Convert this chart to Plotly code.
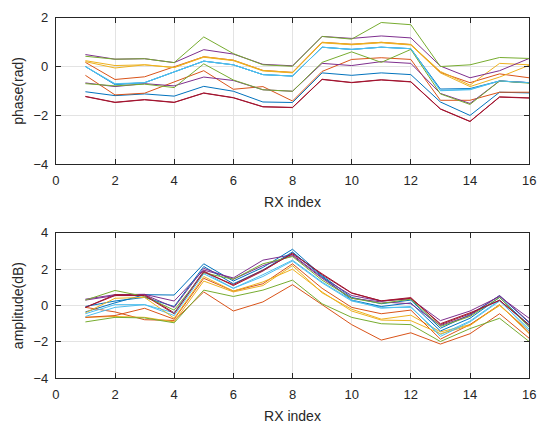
import plotly.graph_objects as go

rx = list(range(1, 17))

# MATLAB default colour order
colors = ["#0072BD", "#D95319", "#EDB120", "#7E2F8E", "#77AC30", "#4DBEEE", "#A2142F"]

# ---- phase (rad) ----
ph_blue1 = [0.00, -0.74, -0.66, -0.22, 0.22, 0.07, -0.33, -0.39, 0.79, 0.70, 0.79, 0.73, -0.92, -0.90, -0.59, -0.66]
ph_orange1 = [0.17, -0.53, -0.42, 0.00, 0.40, 0.26, -0.16, -0.24, 0.99, 0.91, 0.99, 0.90, -0.24, -0.66, -0.30, -0.46]
ph_yellow1 = [0.24, 0.04, 0.07, -0.04, 0.40, 0.26, -0.16, -0.24, 0.99, 0.91, 0.99, 0.90, -0.20, -0.76, 0.13, 0.07]
ph_purple1 = [0.49, 0.30, 0.32, 0.16, 0.69, 0.51, 0.09, 0.03, 1.23, 1.15, 1.25, 1.17, 0.02, -0.46, -0.17, 0.33]
ph_green1 = [0.42, 0.30, 0.32, 0.16, 1.21, 0.53, 0.07, 0.01, 1.23, 1.12, 1.80, 1.71, 0.00, 0.07, 0.37, 0.33]
ph_lblue1 = [0.00, -0.70, -0.66, -0.22, 0.22, 0.07, -0.33, -0.39, 0.79, 0.70, 0.79, 0.73, -0.99, -0.95, -0.59, -0.66]
ph_dred1 = [-1.23, -1.47, -1.36, -1.47, -1.09, -1.28, -1.65, -1.68, -0.53, -0.66, -0.55, -0.63, -1.74, -2.25, -1.25, -1.29]
ph_blue2 = [-1.03, -1.19, -1.12, -1.21, -0.81, -1.01, -1.45, -1.47, -0.26, -0.36, -0.26, -0.33, -1.45, -2.00, -1.05, -1.08]
ph_orange2 = [-0.36, -1.16, -1.09, -0.62, -0.17, -0.93, -0.82, -1.41, -0.20, 0.29, 0.36, 0.29, -1.38, -1.38, -1.05, -1.05]
ph_yellow2 = [0.20, -0.06, 0.07, -0.04, 0.38, 0.24, -0.18, -0.26, 0.97, 0.89, 0.97, 0.88, -0.26, -0.82, -0.43, 0.05]
ph_purple2 = [-0.67, -0.82, -0.70, -0.79, -0.43, -0.57, -0.95, -1.01, 0.13, 0.04, 0.20, 0.13, -1.10, -1.51, -0.59, -0.66]
ph_green2 = [-0.70, -0.79, -0.72, -0.86, 0.11, -0.55, -0.95, -1.01, 0.17, 0.60, 0.17, 0.70, -1.12, -1.55, -0.59, -0.68]
ph_lblue2 = [0.00, -0.72, -0.66, -0.22, 0.22, 0.07, -0.33, -0.39, 0.79, 0.70, 0.79, 0.73, -0.97, -0.93, -0.59, -0.66]
ph_dred2 = [-1.22, -1.46, -1.35, -1.46, -1.08, -1.27, -1.64, -1.67, -0.52, -0.65, -0.54, -0.62, -1.73, -2.24, -1.24, -1.28]

# ---- amplitude (dB) ----
am_blue1 = [-0.35, 0.15, 0.60, 0.58, 2.30, 1.35, 2.10, 3.10, 1.65, 0.45, 0.10, 0.30, -1.25, -0.50, 0.55, -0.95]
am_orange1 = [-0.10, -0.35, -0.78, -0.82, 0.75, -0.30, 0.20, 1.15, 0.05, -1.05, -1.90, -1.50, -2.12, -1.55, -0.45, -1.80]
am_yellow1 = [-0.65, -0.60, -0.65, -0.90, 1.35, 0.75, 1.10, 2.20, 0.70, -0.20, -0.75, -0.53, -1.45, -1.05, 0.00, -1.40]
am_purple1 = [0.35, 0.60, 0.62, 0.25, 1.95, 1.52, 2.50, 2.80, 1.55, 0.55, 0.25, 0.37, -0.83, -0.30, 0.50, -0.70]
am_green1 = [-0.90, -0.65, -0.68, -0.95, 0.85, 0.50, 0.85, 1.40, 0.10, -0.65, -1.00, -1.05, -1.98, -1.27, -0.70, -1.98]
am_lblue1 = [-0.60, -0.10, 0.05, -0.55, 1.75, 0.95, 1.60, 2.45, 1.25, 0.25, -0.10, -0.10, -1.60, -0.85, 0.30, -1.40]
am_dred1 = [-0.10, 0.60, 0.60, -0.40, 1.90, 1.10, 1.90, 2.90, 1.70, 0.68, 0.26, 0.44, -1.05, -0.45, 0.30, -1.10]
am_blue2 = [-0.05, 0.25, 0.45, -0.05, 2.15, 1.20, 1.95, 2.95, 1.60, 0.30, -0.05, 0.15, -1.40, -0.70, 0.45, -1.10]
am_orange2 = [-0.65, -0.55, -0.15, -0.75, 1.50, 0.80, 1.20, 2.30, 0.95, -0.10, -0.45, -0.25, -1.85, -1.05, 0.05, -1.50]
am_yellow2 = [-0.40, 0.40, 0.45, -0.70, 1.60, 0.80, 1.30, 2.00, 0.75, -0.30, -0.80, -0.83, -1.55, -1.10, 0.05, -1.55]
am_purple2 = [0.30, 0.55, 0.60, -0.10, 2.05, 1.45, 2.20, 2.75, 1.50, 0.40, 0.20, 0.10, -1.10, -0.55, 0.55, -0.90]
am_green2 = [0.30, 0.83, 0.50, -0.25, 1.80, 1.45, 2.30, 2.70, 1.40, 0.40, 0.12, 0.35, -1.15, -0.60, 0.45, -1.20]
am_lblue2 = [-0.45, 0.05, 0.05, -0.40, 1.85, 0.95, 1.70, 2.50, 1.30, 0.30, -0.15, -0.05, -1.70, -0.90, 0.25, -1.30]
am_dred2 = [-0.10, 0.55, 0.55, -0.45, 1.85, 1.15, 1.95, 2.85, 1.75, 0.70, 0.25, 0.40, -1.00, -0.40, 0.28, -1.05]

phase_series = [ph_blue1, ph_orange1, ph_yellow1, ph_purple1, ph_green1, ph_lblue1, ph_dred1,
                ph_blue2, ph_orange2, ph_yellow2, ph_purple2, ph_green2, ph_lblue2, ph_dred2]
amp_series = [am_blue1, am_orange1, am_yellow1, am_purple1, am_green1, am_lblue1, am_dred1,
              am_blue2, am_orange2, am_yellow2, am_purple2, am_green2, am_lblue2, am_dred2]

x_ticks = [0, 2, 4, 6, 8, 10, 12, 14, 16]
phase_ticks = [-4, -2, 0, 2]
amp_ticks = [-4, -2, 0, 2, 4]

fig = go.Figure()
for k, s in enumerate(phase_series):
    fig.add_trace(go.Scatter(x=rx, y=s, mode="lines", xaxis="x", yaxis="y",
                             line=dict(color=colors[k % 7], width=1), showlegend=False))
for k, s in enumerate(amp_series):
    fig.add_trace(go.Scatter(x=rx, y=s, mode="lines", xaxis="x2", yaxis="y2",
                             line=dict(color=colors[k % 7], width=1), showlegend=False))

W, H = 544, 434
xl, xr = 52.9, 536.0
top_t, top_b = 11.0, 163.0
bot_t, bot_b = 234.0, 384.5

axis_common = dict(showline=True, linecolor="#262626", linewidth=1, mirror="ticks",
                   ticks="inside", ticklen=5, tickcolor="#262626",
                   showgrid=True, gridcolor="#e3e3e3", gridwidth=1, zeroline=False,
                   tickfont=dict(family="Liberation Sans, Arial", size=13, color="#262626"))
title_font = dict(family="Liberation Sans, Arial", size=14, color="#262626")

fig.update_layout(
    width=W, height=H, margin=dict(l=0, r=0, t=0, b=0),
    paper_bgcolor="white", plot_bgcolor="white",
    xaxis=dict(domain=[xl / W, xr / W], range=[0, 16], tickvals=x_ticks, anchor="y",
               ticklabelstandoff=4,
               title=dict(text="RX index", font=title_font, standoff=10), **axis_common),
    yaxis=dict(domain=[1 - top_b / H, 1 - top_t / H], range=[-4, 2], tickvals=phase_ticks,
               anchor="x", ticklabelstandoff=4,
               title=dict(text="phase(rad)", font=title_font, standoff=6), **axis_common),
    xaxis2=dict(domain=[xl / W, xr / W], range=[0, 16], tickvals=x_ticks, anchor="y2",
                ticklabelstandoff=4,
                title=dict(text="RX index", font=title_font, standoff=10), **axis_common),
    yaxis2=dict(domain=[1 - bot_b / H, 1 - bot_t / H], range=[-4, 4], tickvals=amp_ticks,
                anchor="x2", ticklabelstandoff=4,
                title=dict(text="amplitude(dB)", font=title_font, standoff=6), **axis_common),
)

fig.write_html("out.html")
